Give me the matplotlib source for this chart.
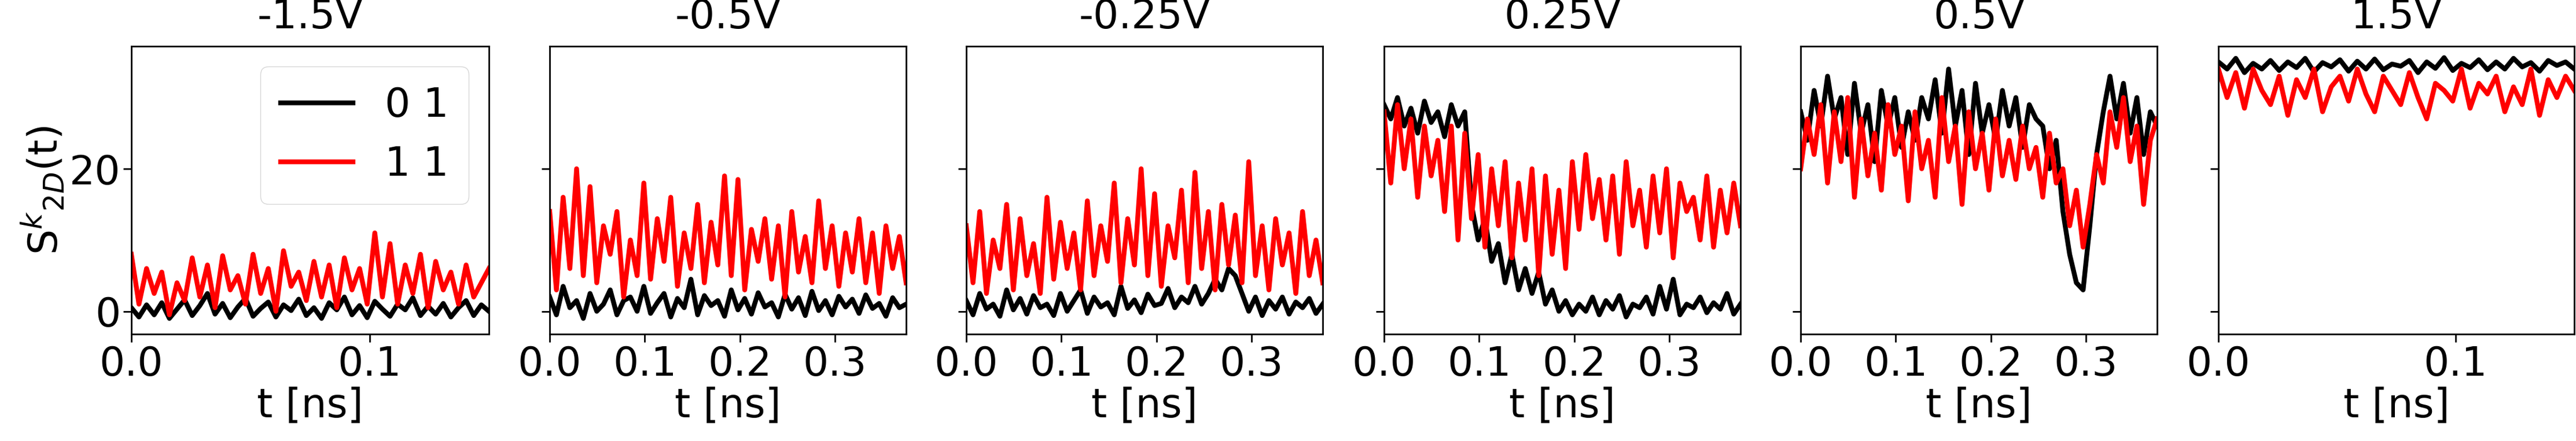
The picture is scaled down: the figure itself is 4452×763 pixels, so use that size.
import numpy as np
from matplotlib import pyplot as plt

# panel titles and time extent [ns]
titles = ['-1.5V', '-0.5V', '-0.25V', '0.25V', '0.5V', '1.5V']
t_max = [0.15, 0.375, 0.375, 0.375, 0.375, 0.15]

# S^k_2D(t), series "0 1" (black) and "1 1" (red)
s01_m15 = [0.5, -0.8, 0.9, -0.5, 1.2, -1.0, 0.3, 1.6, -0.6, 0.8, 2.5, -0.4, 1.1, -0.9, 0.6, 1.8, -0.7, 0.4,
           1.3, -0.8, 0.9, 0.1, 1.7, -0.6, 0.5, -1.0, 1.2, 0.2, 2.0, -0.5, 0.8, -0.9, 1.4, 0.3, -0.7, 1.0,
           0.2, 1.9, -0.6, 0.7, -0.4, 1.1, -0.8, 0.5, 1.5, -0.6, 0.9, 0.0]
s11_m15 = [8.0, 1.0, 6.0, 2.5, 5.5, -0.5, 4.0, 1.5, 7.5, 2.0, 6.5, 0.5, 7.8, 3.0, 5.0, 1.0, 8.0, 2.5, 6.0,
           0.0, 8.5, 3.5, 5.5, 1.5, 7.0, 2.0, 6.5, 0.5, 7.5, 3.0, 6.0, 1.0, 11.0, 2.0, 9.5, 1.0, 6.5, 2.5,
           8.0, 0.5, 7.0, 3.0, 5.5, 1.0, 6.5, 2.0, 4.0, 6.0]
s01_m05 = [2.0, -0.5, 3.5, 0.5, 1.5, -1.0, 2.5, 0.0, 1.0, 3.0, -0.5, 1.5, 2.0, 0.0, 3.5, -0.3, 1.2, 2.5, -0.8,
           1.8, 0.5, 4.5, -0.5, 2.2, 0.8, 1.5, -0.7, 3.0, 0.2, 1.8, -0.4, 2.6, 0.6, 1.2, -0.8, 2.4, 0.3,
           1.9, -0.6, 2.8, 0.1, 1.5, -0.5, 2.1, 0.6, 1.7, -0.3, 2.3, 0.4, 1.1, -0.7, 1.9, 0.5, 1.0]
s11_m05 = [14.0, 3.0, 16.0, 6.0, 20.0, 5.0, 17.5, 4.0, 12.0, 8.0, 14.0, 2.0, 10.0, 5.0, 18.0, 4.5, 13.0, 7.0,
           16.0, 3.5, 11.0, 6.0, 15.0, 4.0, 12.5, 6.5, 19.0, 5.0, 18.5, 3.0, 11.5, 7.0, 13.0, 4.5, 12.0,
           2.0, 14.0, 5.5, 10.5, 4.0, 15.5, 6.0, 12.0, 3.5, 11.0, 5.5, 13.0, 4.0, 11.0, 2.5, 12.0, 6.0,
           10.5, 4.0]
s01_m025 = [1.5, -0.5, 2.5, 0.3, 1.0, -0.7, 3.0, 0.2, 1.8, -0.4, 2.2, 0.5, 1.0, -0.6, 2.5, 0.0, 1.5, 3.0,
            -0.3, 2.0, 0.6, 1.2, -0.5, 3.5, 0.4, 1.6, -0.2, 2.4, 0.8, 1.1, 3.2, 0.5, 2.0, 1.2, 3.5, 1.0,
            2.5, 4.5, 3.0, 6.0, 5.0, 2.5, 0.0, 2.0, -0.6, 1.5, 0.3, 2.0, -0.4, 1.3, 0.5, 1.8, -0.3, 1.0]
s11_m025 = [12.0, 4.0, 14.0, 2.5, 10.0, 6.0, 15.0, 3.0, 13.0, 5.0, 9.5, 2.5, 16.0, 4.5, 12.5, 6.0, 11.0,
            3.0, 15.5, 5.0, 12.0, 7.0, 18.0, 4.0, 13.0, 6.5, 20.0, 5.0, 16.5, 3.5, 12.0, 7.5, 17.0, 4.0,
            19.5, 6.0, 14.0, 3.0, 15.0, 6.5, 13.5, 4.0, 21.0, 5.0, 12.0, 3.0, 13.0, 6.5, 11.0, 2.5, 14.0,
            5.0, 10.0, 4.0]
s01_p025 = [29.0, 27.0, 30.0, 26.0, 28.5, 25.0, 29.5, 26.5, 28.0, 24.5, 29.0, 26.0, 28.0, 15.0, 10.0, 13.0,
            7.0, 9.5, 4.0, 8.0, 3.0, 6.0, 2.5, 5.5, 1.0, 3.0, 0.0, 1.5, -0.5, 1.0, 0.0, 2.0, -0.5, 1.5, 0.3,
            2.2, -0.8, 1.0, 0.5, 2.0, -0.4, 3.5, 0.3, 4.5, -0.5, 1.0, 0.5, 2.0, -0.2, 1.2, 0.3, 2.5, -0.4,
            1.0]
s11_p025 = [28.0, 18.0, 29.0, 20.0, 27.0, 16.0, 26.0, 19.0, 24.0, 14.0, 26.0, 10.0, 25.0, 13.0, 22.0, 9.0,
            20.0, 12.0, 21.0, 7.5, 18.0, 10.0, 20.0, 5.0, 19.0, 8.0, 17.0, 6.0, 21.0, 11.5, 22.0, 13.0, 18.5,
            10.0, 19.0, 8.0, 21.0, 12.0, 17.0, 9.0, 19.0, 11.0, 20.0, 7.5, 18.0, 14.0, 16.0, 10.0, 19.0,
            9.0, 17.0, 11.0, 18.0, 12.0]
s01_p05 = [28.0, 24.0, 31.0, 26.0, 33.0, 27.0, 30.0, 22.0, 32.0, 25.0, 29.0, 21.0, 31.0, 26.0, 30.0, 23.0,
           28.0, 24.0, 30.0, 27.0, 32.5, 25.0, 34.0, 26.0, 31.0, 22.0, 32.0, 25.0, 29.0, 24.0, 31.0, 26.0,
           30.0, 23.0, 29.0, 27.0, 26.0, 20.0, 24.0, 14.0, 8.0, 4.0, 3.0, 12.0, 22.0, 28.0, 33.0, 27.0,
           32.0, 25.0, 30.0, 22.0, 28.0, 26.0]
s11_p05 = [20.0, 27.0, 22.0, 29.0, 18.0, 28.0, 21.0, 30.0, 16.0, 27.0, 19.0, 25.0, 17.0, 29.0, 22.0, 26.0,
           15.5, 28.0, 20.0, 24.0, 16.0, 30.0, 21.0, 26.0, 15.0, 28.0, 20.0, 25.0, 17.0, 27.0, 19.0, 24.0,
           18.5, 26.0, 20.0, 23.0, 16.0, 25.0, 18.0, 20.0, 12.0, 17.0, 9.0, 15.0, 22.0, 18.0, 28.0, 23.0,
           30.0, 21.0, 26.0, 15.0, 24.0, 27.0]
s01_p15 = [35.0, 34.0, 35.5, 33.5, 34.8, 34.0, 35.2, 33.8, 35.0, 34.2, 35.5, 33.6, 34.9, 34.3, 35.3, 33.7,
           35.1, 34.0, 35.4, 33.9, 34.7, 34.4, 35.2, 33.5, 35.0, 34.1, 35.6, 33.8, 34.8, 34.2, 35.3, 33.9,
           35.0, 34.0, 35.5, 34.3, 34.9, 33.7, 35.2, 34.5, 35.0, 34.0]
s11_p15 = [34.0, 30.0, 33.5, 28.5, 34.0, 31.0, 29.0, 33.0, 27.5, 32.5, 30.0, 34.0, 28.0, 31.5, 33.0, 29.5,
           34.0, 30.5, 28.0, 33.0, 31.0, 29.0, 33.5, 30.0, 27.0, 32.0, 31.0, 29.5, 34.0, 28.5, 32.0, 30.5,
           33.0, 28.0, 31.5, 29.0, 34.0, 27.5, 32.5, 30.0, 33.0, 31.0]

black_series = [s01_m15, s01_m05, s01_m025, s01_p025, s01_p05, s01_p15]
red_series = [s11_m15, s11_m05, s11_m025, s11_p025, s11_p05, s11_p15]

W, H = 4452, 763
fig = plt.figure(figsize=(W / 100, H / 100), dpi=100)
lefts = [227, 950, 1670, 2392, 3112, 3834]
widths = [618, 616, 616, 616, 616, 615]
bottom, top = 578, 80
fs = 50

for i in range(6):
    ax = fig.add_axes([lefts[i] / W, 1 - bottom / H, widths[i] / W, (bottom - top) / H])
    tb = np.linspace(0, t_max[i], len(black_series[i]))
    tr = np.linspace(0, t_max[i], len(red_series[i]))
    ax.plot(tb, black_series[i], color='black', lw=6, label='0 1')
    ax.plot(tr, red_series[i], color='red', lw=6, label='1 1')
    ax.set_xlim(0, t_max[i])
    ax.set_ylim(-3.2, 37.2)
    ax.set_yticks([0, 20])
    if t_max[i] < 0.2:
        ax.set_xticks([0.0, 0.1])
    else:
        ax.set_xticks([0.0, 0.1, 0.2, 0.3])
    ax.set_xticklabels(['%.1f' % v for v in ax.get_xticks()])
    ax.tick_params(labelsize=fs, width=2, length=10)
    if i > 0:
        ax.set_yticklabels([])
    else:
        ax.set_ylabel(r'S$^k$$_{2D}$(t)', fontsize=fs)
        ax.legend(fontsize=fs, loc='upper right', handlelength=1.8, borderpad=0.5)
    for sp in ax.spines.values():
        sp.set_linewidth(2)
    ax.set_title(titles[i], fontsize=fs, pad=22)
    ax.set_xlabel('t [ns]', fontsize=fs)

fig.savefig('out.png', dpi=100)
